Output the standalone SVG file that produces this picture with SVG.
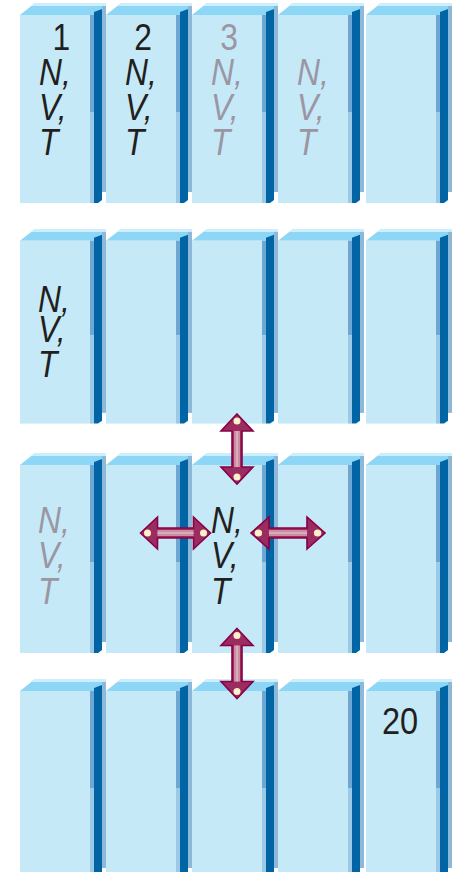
<svg xmlns="http://www.w3.org/2000/svg" xmlns:xlink="http://www.w3.org/1999/xlink" width="456" height="872" viewBox="0 0 456 872">
  <style>
    .front { fill: #c6e9f8; }
    .top { fill: #8ed6f6; }
    .topline { fill: #cdeefb; }
    .edge-a { fill: #6ea8d2; }
    .edge-b { fill: #9ccae6; }
    .side { fill: #0064a5; }
    .rim { fill: #8db8d8; }
    .lbl { font-family: "Liberation Sans", Arial, sans-serif; font-size: 37px; fill: #231f20; font-style: italic; }
    .up { font-style: normal; }
    .dim { fill: #9b96a4; }
    .arrow-body { fill: #9a2c60; stroke: #8a0046; stroke-width: 1.6; stroke-linejoin: miter; }
    .arrow-shaft { fill: #c98ea2; }
    .arrow-shine { fill: #dcaab9; }
    .arrow-tip { fill: #fbf1c9; }
  </style>
  <defs>
    <!-- one box column segment: origin at the top-left of the bevel line, front face 70 wide -->
    <g id="cell-shape-a">
      <polygon class="top" points="0,12 15,0 86,0 86,3 74,12"/>
      <polygon class="topline" points="11,3 15,0 86,0 86,3"/>
      <rect class="front" x="0" y="12" width="70" height="188"/>
      <rect class="edge-a" x="70" y="12" width="4" height="97"/>
      <rect class="edge-b" x="70" y="109" width="4" height="91"/>
      <rect class="rim" x="82" y="3" width="4" height="186"/>
      <polygon class="side" points="74,9 82,6 82,197 78,200 74,200"/>
    </g>
    <!-- double-headed arrow, 70 long, centred on the origin, pointing along x -->
    <g id="dbl-arrow">
      <path class="arrow-body" d="M-35,0 L-18,-16 L-18,-5 L18,-5 L18,-16 L35,0 L18,16 L18,5 L-18,5 L-18,16 Z"/>
      <rect class="arrow-shaft" x="-18" y="-3" width="36" height="6"/>
      <rect class="arrow-shine" x="-18" y="-1" width="36" height="2"/>
      <ellipse class="arrow-tip" cx="-28" cy="0" rx="3.5" ry="3.5"/>
      <ellipse class="arrow-tip" cx="28" cy="0" rx="3.5" ry="3.5"/>
    </g>
  </defs>

  <!-- row 1 -->
  <g id="r1c1" transform="translate(20 3)"><use xlink:href="#cell-shape-a"/></g>
  <g id="r1c2" transform="translate(106 3)"><use xlink:href="#cell-shape-a"/></g>
  <g id="r1c3" transform="translate(192 3)"><use xlink:href="#cell-shape-a"/></g>
  <g id="r1c4" transform="translate(278 3)"><use xlink:href="#cell-shape-a"/></g>
  <g id="r1c5" transform="translate(366 3)"><use xlink:href="#cell-shape-a"/></g>

  <!-- row 2 -->
  <g id="r2c1" transform="translate(20 229) scale(1 0.973)"><use xlink:href="#cell-shape-a"/></g>
  <g id="r2c2" transform="translate(106 229) scale(1 0.973)"><use xlink:href="#cell-shape-a"/></g>
  <g id="r2c3" transform="translate(192 229) scale(1 0.973)"><use xlink:href="#cell-shape-a"/></g>
  <g id="r2c4" transform="translate(278 229) scale(1 0.973)"><use xlink:href="#cell-shape-a"/></g>
  <g id="r2c5" transform="translate(366 229) scale(1 0.973)"><use xlink:href="#cell-shape-a"/></g>

  <!-- row 3 -->
  <g id="r3c1" transform="translate(20 453)"><use xlink:href="#cell-shape-a"/></g>
  <g id="r3c2" transform="translate(106 453)"><use xlink:href="#cell-shape-a"/></g>
  <g id="r3c3" transform="translate(192 453)"><use xlink:href="#cell-shape-a"/></g>
  <g id="r3c4" transform="translate(278 453)"><use xlink:href="#cell-shape-a"/></g>
  <g id="r3c5" transform="translate(366 453)"><use xlink:href="#cell-shape-a"/></g>

  <!-- row 4 -->
  <g id="r4c1" transform="translate(20 679)"><use xlink:href="#cell-shape-a"/></g>
  <g id="r4c2" transform="translate(106 679)"><use xlink:href="#cell-shape-a"/></g>
  <g id="r4c3" transform="translate(192 679)"><use xlink:href="#cell-shape-a"/></g>
  <g id="r4c4" transform="translate(278 679)"><use xlink:href="#cell-shape-a"/></g>
  <g id="r4c5" transform="translate(366 679)"><use xlink:href="#cell-shape-a"/></g>

  <!-- labels: one stacked text per cell, slightly condensed -->
  <g id="labels">
    <text class="lbl" transform="translate(39 0) scale(0.86 1)"><tspan class="up" x="26" y="50" text-anchor="middle">1</tspan><tspan x="0" y="85">N,</tspan><tspan x="0" y="120">V,</tspan><tspan x="0" y="155">T</tspan></text>
    <text class="lbl" transform="translate(125 0) scale(0.86 1)"><tspan class="up" x="21" y="50" text-anchor="middle">2</tspan><tspan x="0" y="85">N,</tspan><tspan x="0" y="120">V,</tspan><tspan x="0" y="155">T</tspan></text>
    <text class="lbl dim" transform="translate(211 0) scale(0.86 1)"><tspan class="up" x="21" y="50" text-anchor="middle">3</tspan><tspan x="0" y="85">N,</tspan><tspan x="0" y="120">V,</tspan><tspan x="0" y="155">T</tspan></text>
    <text class="lbl dim" transform="translate(297 0) scale(0.86 1)"><tspan x="0" y="85">N,</tspan><tspan x="0" y="120">V,</tspan><tspan x="0" y="155">T</tspan></text>

    <text class="lbl" transform="translate(38 0) scale(0.86 1)"><tspan x="0" y="312">N,</tspan><tspan x="0" y="342">V,</tspan><tspan x="0" y="377">T</tspan></text>

    <text class="lbl dim" transform="translate(38 0) scale(0.86 1)"><tspan x="0" y="533">N,</tspan><tspan x="0" y="568">V,</tspan><tspan x="0" y="604">T</tspan></text>
    <text class="lbl" transform="translate(211 0) scale(0.86 1)"><tspan x="0" y="533">N,</tspan><tspan x="0" y="568">V,</tspan><tspan x="0" y="604">T</tspan></text>

    <text class="lbl up" transform="translate(382 734) scale(0.88 1)">20</text>
  </g>

  <!-- connectors: exchange arrows around the centre cell -->
  <g id="connectors">
    <use xlink:href="#dbl-arrow" transform="translate(237 449) rotate(90)"/>
    <use xlink:href="#dbl-arrow" transform="translate(237 663.5) rotate(90)"/>
    <use xlink:href="#dbl-arrow" transform="translate(175.5 533)"/>
    <use xlink:href="#dbl-arrow" transform="translate(288 533) scale(1.057 1)"/>
  </g>
</svg>
